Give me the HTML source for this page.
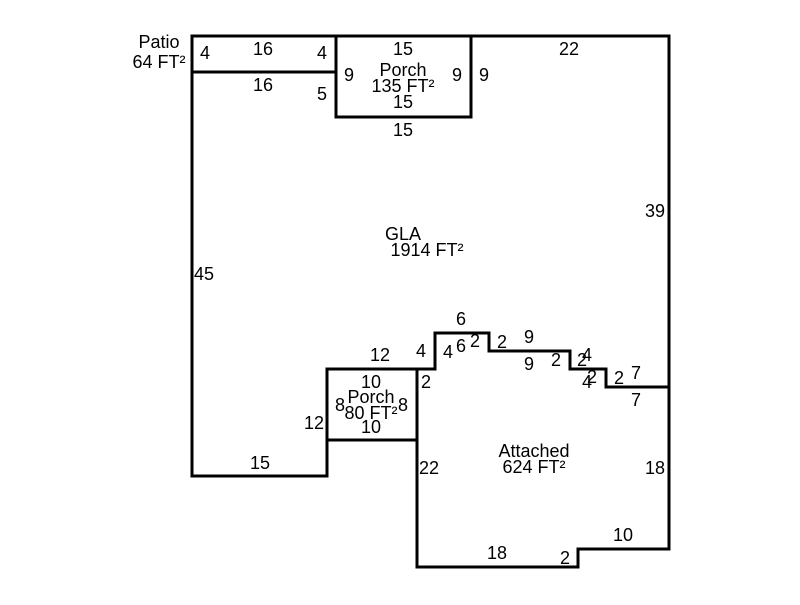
<!DOCTYPE html>
<html><head><meta charset="utf-8"><style>
html,body{margin:0;padding:0;background:#fff}
svg text{font-family:"Liberation Sans",Arial,sans-serif;font-size:18px;fill:#000;text-anchor:middle}
</style></head><body>
<svg width="800" height="600" viewBox="0 0 800 600" xmlns="http://www.w3.org/2000/svg">
<g fill="none" stroke="#000" stroke-width="3" stroke-linecap="square">
<path d="M192,36 H669 V549 H578 V567 H417 V440 H327 V476 H192 Z"/>
<path d="M192,72 H336"/>
<path d="M336,36 V117 H471 V36"/>
<path d="M327,440 V369 H417 V440"/>
<path d="M417,369 H435 V333 H489 V351 H570 V369 H606 V387 H669"/>
</g>
<text x="159" y="48">Patio</text>
<text x="159" y="68">64 FT²</text>
<text x="205" y="59">4</text>
<text x="263" y="55">16</text>
<text x="322" y="59">4</text>
<text x="263" y="91">16</text>
<text x="322" y="100">5</text>
<text x="403" y="55">15</text>
<text x="349" y="81">9</text>
<text x="403" y="76">Porch</text>
<text x="403" y="92">135 FT²</text>
<text x="403" y="108">15</text>
<text x="457" y="81">9</text>
<text x="484" y="81">9</text>
<text x="403" y="136">15</text>
<text x="569" y="55">22</text>
<text x="655" y="217">39</text>
<text x="403" y="240">GLA</text>
<text x="427" y="256">1914 FT²</text>
<text x="204" y="280">45</text>
<text x="461" y="325">6</text>
<text x="421" y="357">4</text>
<text x="448" y="358">4</text>
<text x="461" y="352">6</text>
<text x="475" y="347">2</text>
<text x="502" y="348">2</text>
<text x="529" y="343">9</text>
<text x="529" y="370">9</text>
<text x="556" y="366">2</text>
<text x="587" y="361">4</text>
<text x="582" y="366">2</text>
<text x="587" y="388">4</text>
<text x="592" y="383">2</text>
<text x="619" y="384">2</text>
<text x="636" y="379">7</text>
<text x="636" y="406">7</text>
<text x="380" y="361">12</text>
<text x="426" y="388">2</text>
<text x="371" y="388">10</text>
<text x="371" y="403">Porch</text>
<text x="340" y="411">8</text>
<text x="371" y="419">80 FT²</text>
<text x="403" y="411">8</text>
<text x="371" y="433">10</text>
<text x="314" y="429">12</text>
<text x="260" y="469">15</text>
<text x="429" y="474">22</text>
<text x="534" y="457">Attached</text>
<text x="534" y="473">624 FT²</text>
<text x="655" y="474">18</text>
<text x="623" y="541">10</text>
<text x="497" y="559">18</text>
<text x="565" y="564">2</text>
</svg>
</body></html>
